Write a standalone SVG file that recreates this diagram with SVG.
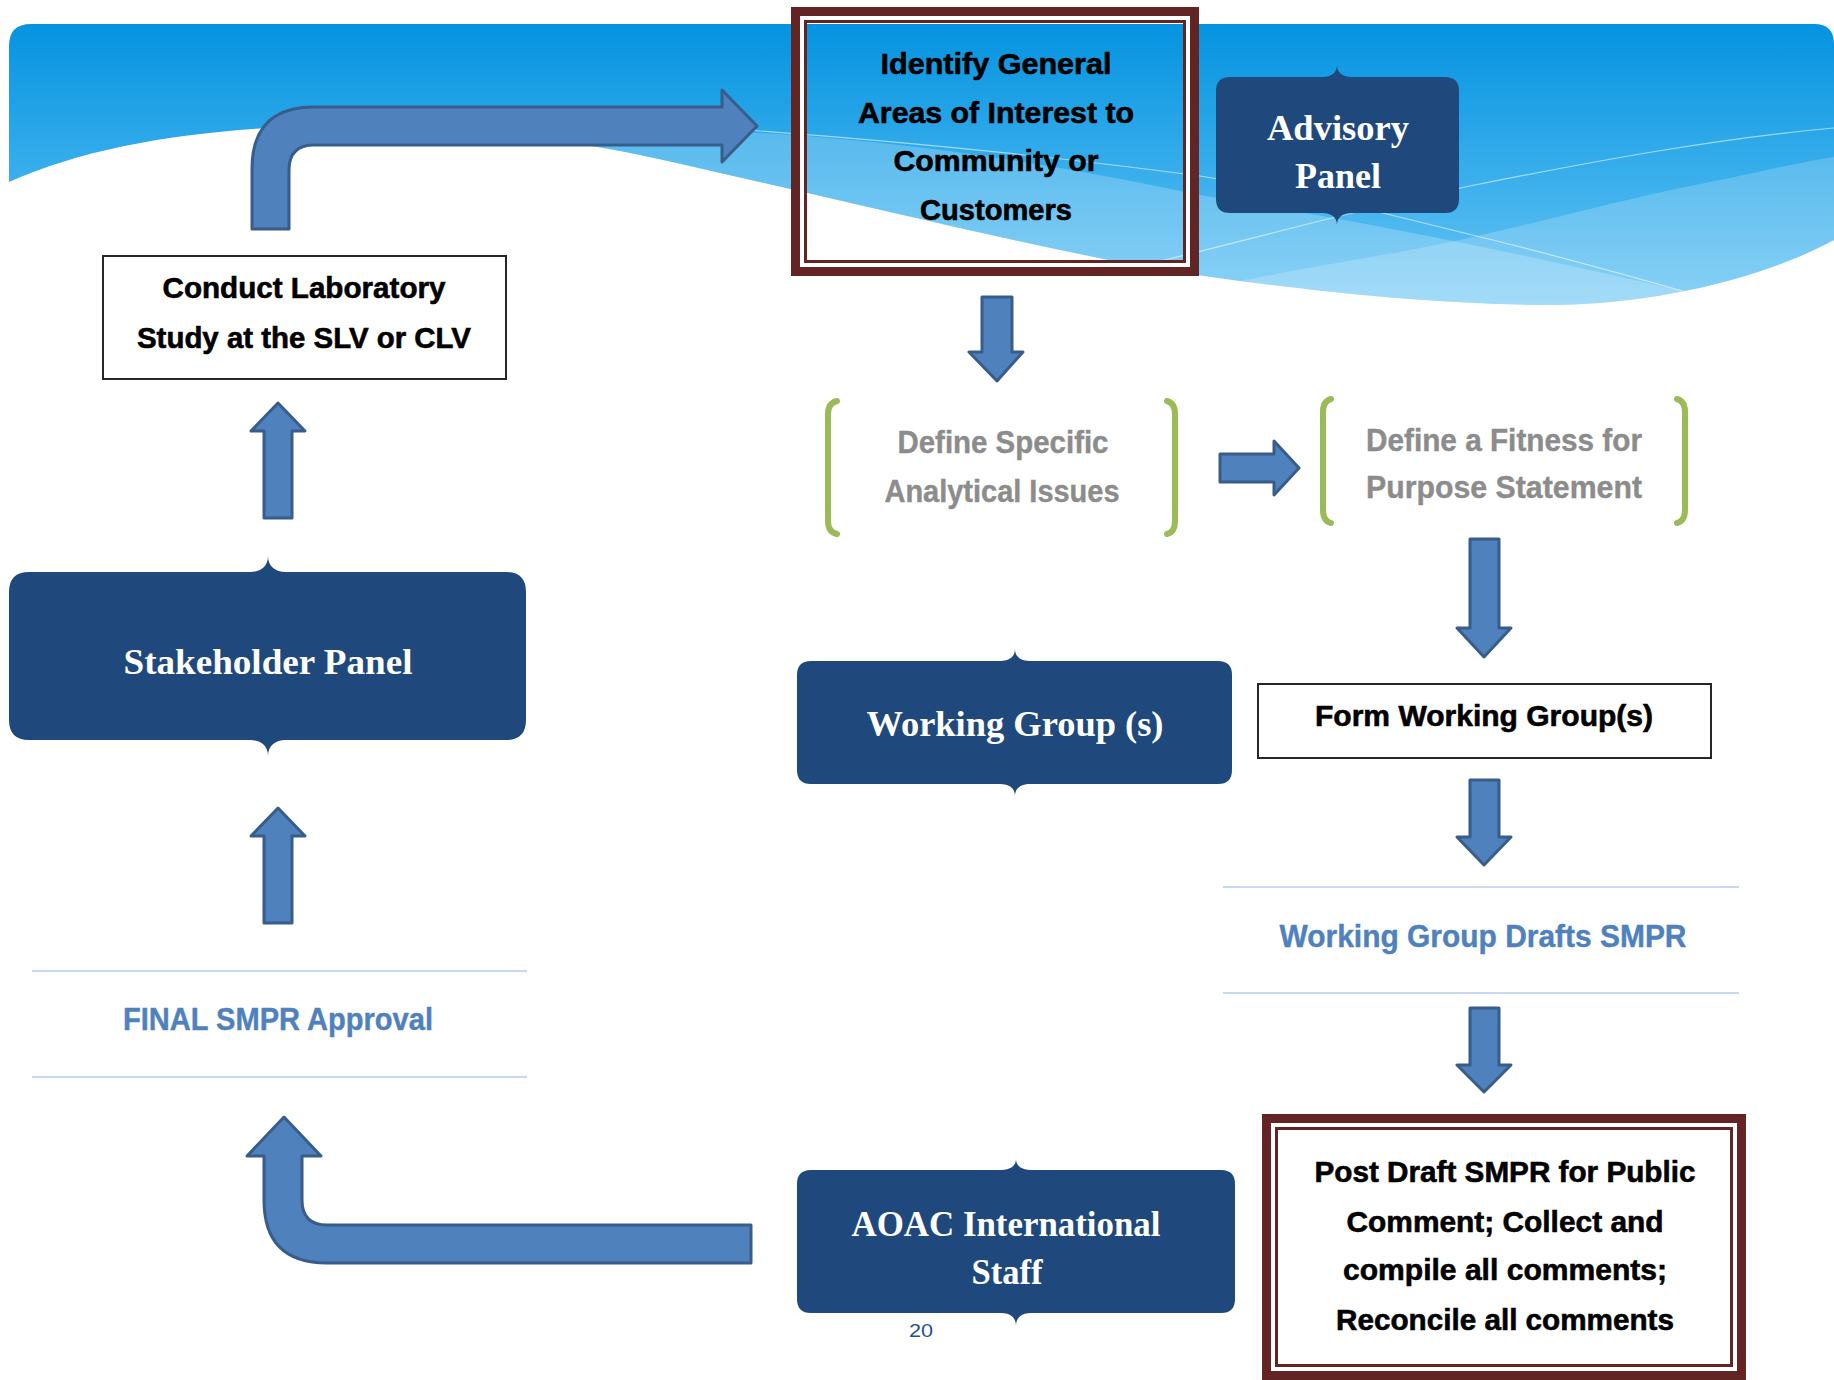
<svg xmlns="http://www.w3.org/2000/svg" width="1834" height="1380" viewBox="0 0 1834 1380">
  <defs>
    <linearGradient id="sky" x1="0" y1="24" x2="0" y2="305" gradientUnits="userSpaceOnUse">
      <stop offset="0" stop-color="#0593e0"/>
      <stop offset="0.55" stop-color="#3aafec"/>
      <stop offset="1" stop-color="#6cc6f4"/>
    </linearGradient>
    <clipPath id="bannerClip">
      <path d="M 9 182 L 9 46 Q 9 24 31 24 L 1814 24 Q 1834 24 1834 44 L 1834 240 C 1770 275 1660 306 1540 305 C 1430 304 1290 290 1150 268 C 1000 240 800 190 640 155 C 520 130 380 122 267 128 C 170 134 80 150 9 182 Z"/>
    </clipPath>
  </defs>
  <style>
    .arrow { fill: #4f81bd; stroke: #385d8a; stroke-width: 3; stroke-linejoin: round; }
    .panel { fill: #1f497d; }
    .ptxt { font-family: "Liberation Serif", "Times New Roman", serif; font-weight: bold; font-size: 35px; fill: #ffffff; text-anchor: middle; }
    .btxt { font-family: "Liberation Sans", Arial, sans-serif; font-weight: bold; font-size: 30px; fill: #000000; stroke: #000000; stroke-width: 0.6; text-anchor: middle; }
    .gtxt { font-family: "Liberation Sans", Arial, sans-serif; font-weight: bold; font-size: 31px; fill: #8c8c8c; stroke: #8c8c8c; stroke-width: 0.4; text-anchor: middle; }
    .ltxt { font-family: "Liberation Sans", Arial, sans-serif; font-weight: bold; font-size: 31px; fill: #4f81bd; stroke: #4f81bd; stroke-width: 0.4; text-anchor: middle; }
    .box { fill: #ffffff; stroke: #262626; stroke-width: 2; }
    .brk { fill: none; stroke: #9bbb59; stroke-width: 6; stroke-linecap: round; }
    .rule { stroke: #c6d9f1; stroke-width: 2; }
    .frameO { fill: none; stroke: #632523; stroke-width: 9; }
    .frameW { fill: none; stroke: #ffffff; stroke-width: 4; }
    .frameI { fill: none; stroke: #632523; stroke-width: 3; }
    .wave { fill: #ffffff; }
    .waveline { fill: none; stroke: #ffffff; stroke-width: 1.2; stroke-opacity: 0.55; }
  </style>

  <!-- background wave banner -->
  <g id="banner">
    <rect x="0" y="0" width="1834" height="1380" fill="#ffffff"/>
    <g clip-path="url(#bannerClip)">
      <rect x="0" y="0" width="1834" height="320" fill="url(#sky)"/>
      <path class="wave" fill-opacity="0.22" d="M 440 136 C 560 128 680 128 780 134 C 950 146 1080 170 1200 195 C 1400 228 1560 262 1720 300 L 1720 400 L 400 400 Z"/>
      <path class="wave" fill-opacity="0.2" d="M 1080 310 C 1200 290 1300 268 1400 252 C 1500 234 1600 204 1700 184 C 1760 172 1800 162 1834 157 L 1834 400 L 1080 400 Z"/>
      <path class="waveline" d="M 690 126 C 900 140 1080 160 1200 176 C 1300 192 1380 212 1460 232 C 1560 256 1630 276 1700 296"/>
      <path class="waveline" d="M 1140 266 C 1250 240 1370 206 1470 186 C 1600 160 1720 138 1834 128"/>
    </g>
  </g>

  <!-- connectors -->
  <g id="connectors">
    <path class="arrow" d="M 252 229 L 252 169 Q 252 107 314 107 L 722 107 L 722 90 L 757 126 L 722 162 L 722 145 L 314 145 Q 289 145 289 170 L 289 229 Z"/>
    <path class="arrow" d="M 982 297 L 1012 297 L 1012 352 L 1023 352 L 997 381 L 969 352 L 982 352 Z"/>
    <path class="arrow" d="M 1220 454 L 1274 454 L 1274 441 L 1299 468 L 1274 495 L 1274 482 L 1220 482 Z"/>
    <path class="arrow" d="M 1470 539 L 1499 539 L 1499 628 L 1511 628 L 1484 657 L 1457 628 L 1470 628 Z"/>
    <path class="arrow" d="M 1470 780 L 1499 780 L 1499 837 L 1511 837 L 1484 865 L 1457 837 L 1470 837 Z"/>
    <path class="arrow" d="M 1470 1008 L 1499 1008 L 1499 1065 L 1511 1065 L 1484 1092 L 1457 1065 L 1470 1065 Z"/>
    <path class="arrow" d="M 284 1117 L 321 1156 L 302 1156 L 302 1200 Q 302 1225 327 1225 L 751 1225 L 751 1263 L 327 1263 Q 264 1263 264 1200 L 264 1156 L 247 1156 Z"/>
    <path class="arrow" d="M 264 923 L 264 836 L 251 836 L 278 808 L 305 836 L 292 836 L 292 923 Z"/>
    <path class="arrow" d="M 264 518 L 264 431 L 251 431 L 278 403 L 305 431 L 292 431 L 292 518 Z"/>
  </g>

  <!-- step: identify general areas -->
  <g id="identify">
    <rect class="frameO" x="795.5" y="11.5" width="399" height="260"/>
    <rect class="frameW" x="802" y="18" width="386" height="247"/>
    <rect class="frameI" x="805.5" y="21.5" width="379" height="240"/>
    <text class="btxt" x="996" y="74" textLength="231" lengthAdjust="spacingAndGlyphs">Identify General</text>
    <text class="btxt" x="996" y="123" textLength="276" lengthAdjust="spacingAndGlyphs">Areas of Interest to</text>
    <text class="btxt" x="996" y="171" textLength="205" lengthAdjust="spacingAndGlyphs">Community or</text>
    <text class="btxt" x="996" y="220" textLength="152" lengthAdjust="spacingAndGlyphs">Customers</text>
  </g>

  <!-- advisory panel -->
  <g id="advisory">
    <path class="panel" d="M 1230 77 L 1322 77 C 1331 77 1337 73 1337 65 C 1337 73 1343 77 1352 77 L 1445 77 Q 1459 77 1459 91 L 1459 199 Q 1459 213 1445 213 L 1352 213 C 1343 213 1337 217 1337 225 C 1337 217 1331 213 1322 213 L 1230 213 Q 1216 213 1216 199 L 1216 91 Q 1216 77 1230 77 Z"/>
    <text class="ptxt" x="1338" y="140" textLength="142" lengthAdjust="spacingAndGlyphs">Advisory</text>
    <text class="ptxt" x="1338" y="188" textLength="86" lengthAdjust="spacingAndGlyphs">Panel</text>
  </g>

  <!-- laboratory study -->
  <g id="lab-study">
    <rect class="box" x="103" y="256" width="403" height="123"/>
    <text class="btxt" x="304" y="298" textLength="283" lengthAdjust="spacingAndGlyphs">Conduct Laboratory</text>
    <text class="btxt" x="304" y="348" textLength="334" lengthAdjust="spacingAndGlyphs">Study at the SLV or CLV</text>
  </g>

  <!-- define specific analytical issues -->
  <g id="define-issues">
    <path class="brk" d="M 837 401 Q 828 403 828 414 L 828 521 Q 828 532 837 534"/>
    <path class="brk" d="M 1167 401 Q 1175 403 1175 414 L 1175 521 Q 1175 532 1167 534"/>
    <text class="gtxt" x="1003" y="453" textLength="211" lengthAdjust="spacingAndGlyphs">Define Specific</text>
    <text class="gtxt" x="1002" y="502" textLength="235" lengthAdjust="spacingAndGlyphs">Analytical Issues</text>
  </g>

  <!-- fitness for purpose -->
  <g id="fitness">
    <path class="brk" d="M 1331 399 Q 1323 401 1323 412 L 1323 510 Q 1323 521 1331 523"/>
    <path class="brk" d="M 1677 399 Q 1685 401 1685 412 L 1685 510 Q 1685 521 1677 523"/>
    <text class="gtxt" x="1504" y="451" textLength="276" lengthAdjust="spacingAndGlyphs">Define a Fitness for</text>
    <text class="gtxt" x="1504" y="498" textLength="276" lengthAdjust="spacingAndGlyphs">Purpose Statement</text>
  </g>

  <!-- stakeholder panel -->
  <g id="stakeholder">
    <path class="panel" d="M 29 572 L 250 572 C 261 572 268 566 268 556 C 268 566 275 572 286 572 L 506 572 Q 526 572 526 592 L 526 720 Q 526 740 506 740 L 286 740 C 275 740 268 746 268 756 C 268 746 261 740 250 740 L 29 740 Q 9 740 9 720 L 9 592 Q 9 572 29 572 Z"/>
    <text class="ptxt" x="268" y="674" textLength="289" lengthAdjust="spacingAndGlyphs">Stakeholder Panel</text>
  </g>

  <!-- working group panel -->
  <g id="working-group">
    <path class="panel" d="M 811 661 L 1000 661 C 1009 661 1015 657 1015 649 C 1015 657 1021 661 1030 661 L 1218 661 Q 1232 661 1232 675 L 1232 770 Q 1232 784 1218 784 L 1030 784 C 1021 784 1015 788 1015 796 C 1015 788 1009 784 1000 784 L 811 784 Q 797 784 797 770 L 797 675 Q 797 661 811 661 Z"/>
    <text class="ptxt" x="1015" y="736" textLength="297" lengthAdjust="spacingAndGlyphs">Working Group (s)</text>
  </g>

  <!-- form working groups -->
  <g id="form-wg">
    <rect class="box" x="1258" y="684" width="453" height="74"/>
    <text class="btxt" x="1484" y="726" textLength="338" lengthAdjust="spacingAndGlyphs">Form Working Group(s)</text>
  </g>

  <!-- drafts -->
  <g id="drafts">
    <line class="rule" x1="1223" y1="887" x2="1739" y2="887"/>
    <line class="rule" x1="1223" y1="993" x2="1739" y2="993"/>
    <text class="ltxt" x="1483" y="947" textLength="407" lengthAdjust="spacingAndGlyphs">Working Group Drafts SMPR</text>
  </g>

  <!-- final approval -->
  <g id="final-approval">
    <line class="rule" x1="32" y1="971" x2="527" y2="971"/>
    <line class="rule" x1="32" y1="1077" x2="527" y2="1077"/>
    <text class="ltxt" x="278" y="1030" textLength="310" lengthAdjust="spacingAndGlyphs">FINAL SMPR Approval</text>
  </g>

  <!-- public comment -->
  <g id="public-comment">
    <rect class="frameO" x="1266.5" y="1118.5" width="475" height="257"/>
    <rect class="frameW" x="1273" y="1125" width="462" height="244"/>
    <rect class="frameI" x="1276.5" y="1128.5" width="455" height="237"/>
    <text class="btxt" x="1505" y="1182" textLength="381" lengthAdjust="spacingAndGlyphs">Post Draft SMPR for Public</text>
    <text class="btxt" x="1505" y="1232" textLength="317" lengthAdjust="spacingAndGlyphs">Comment; Collect and</text>
    <text class="btxt" x="1505" y="1280" textLength="324" lengthAdjust="spacingAndGlyphs">compile all comments;</text>
    <text class="btxt" x="1505" y="1330" textLength="338" lengthAdjust="spacingAndGlyphs">Reconcile all comments</text>
  </g>

  <!-- staff panel -->
  <g id="aoac-staff">
    <path class="panel" d="M 811 1170 L 1001 1170 C 1010 1170 1016 1166 1016 1159 C 1016 1166 1022 1170 1031 1170 L 1221 1170 Q 1235 1170 1235 1184 L 1235 1299 Q 1235 1313 1221 1313 L 1031 1313 C 1022 1313 1016 1317 1016 1326 C 1016 1317 1010 1313 1001 1313 L 811 1313 Q 797 1313 797 1299 L 797 1184 Q 797 1170 811 1170 Z"/>
    <text class="ptxt" x="1006" y="1236" textLength="309" lengthAdjust="spacingAndGlyphs">AOAC International</text>
    <text class="ptxt" x="1007" y="1284" textLength="71" lengthAdjust="spacingAndGlyphs">Staff</text>
  </g>

  <!-- page number -->
  <text id="page-number" x="921" y="1337" font-family="Liberation Sans, Arial, sans-serif" font-size="19" fill="#1c4f9c" text-anchor="middle" textLength="24" lengthAdjust="spacingAndGlyphs">20</text>
</svg>
